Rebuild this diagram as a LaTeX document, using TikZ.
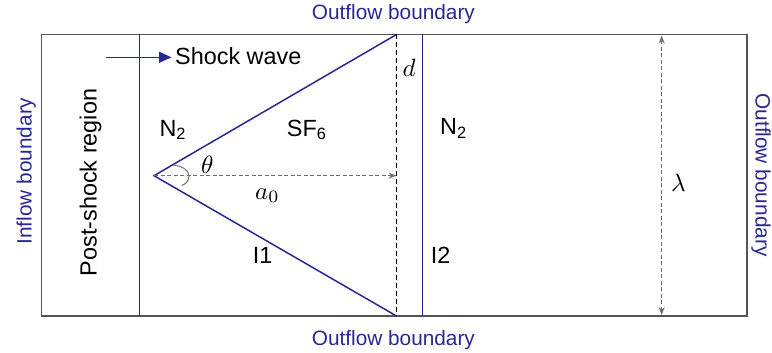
\documentclass[tikz,border=0pt]{standalone}
\usepackage{fontspec}
\setmainfont{Liberation Sans}
\usetikzlibrary{arrows.meta}
\definecolor{navy}{RGB}{40,40,145}
\definecolor{framegray}{RGB}{85,85,85}
\definecolor{dimgray}{RGB}{110,110,110}
\newcommand{\bigmath}[1]{\scalebox{2.5}{$#1$}}
\begin{document}
\begin{tikzpicture}[x=1pt,y=-1pt,
  lbl/.style={font=\fontsize{23.4}{27}\selectfont, inner sep=0pt, anchor=base west},
  bnd/.style={font=\fontsize{20.8}{24}\selectfont, text=navy, inner sep=0pt, anchor=base},
  mth/.style={font=\fontsize{10}{12}\selectfont, inner sep=0pt, anchor=base west},
  iface/.style={navy, line width=1.5pt},
  gdash/.style={dimgray, dashed, dash pattern=on 4pt off 2.5pt, line width=1pt}]
\useasboundingbox (0,0) rectangle (772,353);
% frame
\coordinate (TL) at (41.5,34.5);
\coordinate (BR) at (746.7,316);
\draw[framegray, line width=1.6pt] (TL) rectangle (BR);
% shock wave line
\coordinate (ST) at (139.7,34.5);
\coordinate (SB) at (139.7,316);
\draw[iface] (ST) -- (SB);
% triangle interface I1
\coordinate (A) at (154,175.7);
\coordinate (VT) at (396.5,34.5);
\coordinate (VB) at (396.5,316);
\draw[iface, line join=miter] (VT) -- (A) -- (VB);
% dashed line d
\draw[black, line width=1.8pt, dash pattern=on 5pt off 3pt] (VT) -- (VB);
% I2
\coordinate (IT) at (422.7,34.5);
\coordinate (IB) at (422.7,316);
\draw[iface] (IT) -- (IB);
% a0 arrow
\coordinate (AE) at (396.5,175.7);
\draw[gdash, -{Stealth[length=8pt,width=6pt]}] (A) -- (AE);
% angle arc
\coordinate (U) at (173,165);
\coordinate (R) at (189,176);
\coordinate (L) at (181.7,185.5);
\draw[dimgray, line width=1pt] (U) .. controls (182,166) and (189,170) .. (R) .. controls (189,181) and (186,184) .. (L);
% lambda arrow
\coordinate (LT) at (661.7,35.5);
\coordinate (LB) at (661.7,315);
\draw[gdash, {Stealth[length=8pt,width=6pt]}-{Stealth[length=8pt,width=6pt]}] (LT) -- (LB);
% shock wave arrow
\coordinate (SA1) at (106,57.3);
\coordinate (SA2) at (171.5,57.3);
\draw[iface, -{Triangle[length=12.5pt,width=11pt]}] (SA1) -- (SA2);
\node[lbl] (shock) at (175,65) {Shock wave};
% region labels
\node[lbl] (n2l) at (159.3,136) {N\textsubscript{2}};
\node[lbl] (sf6) at (286.7,136) {SF\textsubscript{6}};
\node[lbl] (n2r) at (440,134.5) {N\textsubscript{2}};
\node[lbl] (i1) at (252.7,263.3) {I1};
\node[lbl] (i2) at (430.7,263.3) {I2};
\node[lbl, anchor=base, rotate=90] (post) at (96.7,182.5) {Post-shock region};
% math labels
\node[mth] (theta) at (201,173) {\bigmath{\theta}};
\node[mth] (a0) at (255,199) {\bigmath{a_0}};
\node[mth] (d) at (402.5,76.7) {\bigmath{d}};
\node[mth] (lam) at (671,191.7) {\bigmath{\lambda}};
% boundaries
\node[bnd] (otop) at (393.4,19.3) {Outflow boundary};
\node[bnd] (obot) at (393.4,345) {Outflow boundary};
\node[bnd, rotate=90] (inflow) at (31.7,171) {Inflow boundary};
\node[bnd, rotate=-90] (oright) at (755.5,175) {Outflow boundary};
\end{tikzpicture}
\end{document}
